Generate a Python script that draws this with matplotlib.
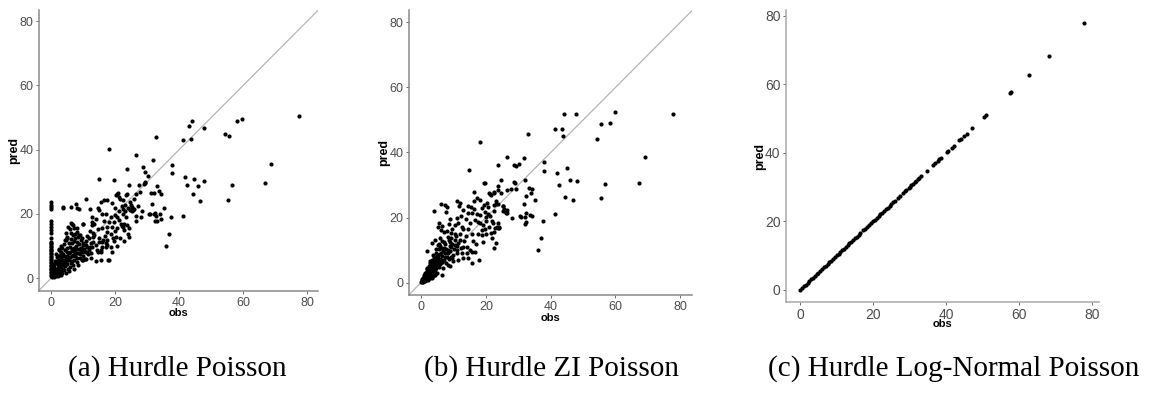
import matplotlib
matplotlib.use("Agg")
import matplotlib.pyplot as plt

# ---------------- data: (obs, pred) pairs ----------------
points_a = [
    # obs = 0 column
    (0, 23.8), (0, 22.9), (0, 22.2), (0, 21.6), (0, 17.9), (0, 16.9), (0, 15.9), (0, 15.0), (0, 14.0),
    (0, 12.4), (0, 11.3), (0, 10.9), (0, 10.5), (0, 10.1), (0, 9.6), (0, 9.2), (0, 8.7), (0, 8.3),
    (0, 7.8), (0, 7.4), (0, 6.9), (0, 6.5), (0, 6.0), (0, 5.6), (0, 5.1), (0, 4.7), (0, 4.2), (0, 3.8),
    (0, 3.3), (0, 2.9), (0, 2.4), (0, 2.0), (0, 1.5), (0, 1.1), (0, 0.6),
    # dense low cluster
    (0.5, 1.0), (0.8, 0.6), (1.0, 1.8), (1.2, 0.9), (1.5, 2.5), (1.7, 1.4), (2.0, 0.8), (2.0, 3.2),
    (2.3, 1.9), (2.5, 2.8), (2.8, 1.2), (3.0, 3.8), (3.0, 2.2), (3.3, 4.5), (3.5, 1.6), (3.6, 3.0),
    (4.0, 5.2), (4.0, 2.5), (4.2, 3.8), (4.5, 6.0), (4.6, 1.5), (5.0, 4.4), (5.0, 7.0), (5.2, 2.8),
    (5.5, 5.8), (5.8, 3.5), (6.0, 8.0), (6.0, 6.5), (6.2, 4.6), (6.5, 9.2), (6.8, 7.3), (7.0, 5.5),
    (7.2, 3.0), (7.5, 8.5), (7.8, 10.0), (8.0, 6.4), (8.2, 11.2), (8.5, 4.2), (8.8, 9.0), (9.0, 7.6),
    (9.3, 12.0), (9.5, 5.5), (10.0, 10.2), (10.0, 8.2), (1.0, 3.5), (1.5, 4.6), (2.0, 5.8), (2.5, 7.0),
    (3.0, 8.2), (3.5, 9.4), (4.0, 10.6), (4.5, 11.8), (5.0, 12.8), (1.8, 6.5), (2.6, 9.0), (3.4, 6.8),
    (4.8, 9.5), (5.5, 10.8), (6.3, 12.2), (0.7, 2.6), (1.3, 5.2), (2.2, 4.0), (3.8, 7.5), (4.3, 8.8),
    (5.3, 6.0), (6.5, 11.0), (7.3, 12.5), (7.0, 9.5), (8.5, 12.8), (9.0, 13.5), (1.0, 0.4), (1.5, 0.7),
    (2.5, 0.9), (3.2, 1.0), (0.3, 0.5), (0.4, 1.5), (0.6, 2.0), (1.1, 2.4), (1.9, 1.6), (2.7, 3.5),
    (3.9, 4.2), (4.7, 4.9), (5.6, 2.2), (6.7, 4.0), (7.6, 6.8), (8.3, 7.9), (9.7, 9.2), (10.5, 6.0),
    (11.0, 11.5), (11.5, 7.5),
    (1.2, 3.0), (1.6, 2.0), (2.1, 2.6), (2.4, 4.6), (2.9, 5.2), (3.1, 6.0), (3.7, 5.5), (4.1, 6.8),
    (4.4, 4.8), (4.9, 8.0), (5.1, 5.6), (5.7, 7.8), (5.9, 9.6), (6.4, 5.2), (6.6, 7.0), (6.9, 8.6),
    (7.1, 11.5), (7.4, 7.5), (7.9, 9.2), (8.1, 5.0), (8.6, 10.5), (8.9, 6.2), (9.4, 8.4), (9.9, 7.0),
    (10.3, 9.0), (10.8, 10.4), (11.3, 9.6), (11.8, 12.6), (12.3, 11.0), (13.5, 13.5), (14.0, 10.2),
    (14.8, 12.6), (16.3, 12.0), (16.8, 13.2), (17.5, 12.0), (3.2, 10.0), (2.2, 6.8), (1.4, 7.5),
    (0.9, 4.4), (0.5, 3.2), (0.3, 2.2), (14.0, 5.2), (12.5, 6.2),
    # middle region
    (3.75, 22.2), (6.1, 22.2), (7.7, 23.1), (8.0, 22.0), (8.75, 21.4), (10.8, 24.6), (12.1, 21.4),
    (14.5, 22.0), (15.5, 23.6), (16.6, 24.3), (17.6, 24.3), (20.7, 26.2), (21.25, 25.3), (24.4, 29.0),
    (23.5, 25.9), (24.9, 22.7), (25.4, 22.2), (25.9, 21.4), (23.1, 21.0), (27.5, 29.0), (29.2, 30.0),
    (31.1, 26.4), (30.6, 20.1), (32.2, 20.1), (15.0, 21.2), (16.0, 20.1), (17.0, 20.1), (18.6, 19.1),
    (21.25, 18.1), (21.8, 17.0), (22.3, 16.0), (22.8, 15.0), (23.9, 13.9), (24.4, 12.9), (12.9, 19.1),
    (13.4, 17.0), (14.5, 15.2), (16.0, 15.5), (17.6, 14.4), (18.6, 13.9), (19.2, 12.4), (20.2, 12.9),
    (17.1, 10.8), (17.6, 10.3), (18.6, 9.8), (15.0, 11.3), (16.0, 9.8), (15.5, 8.2), (17.9, 5.6),
    (12.9, 9.8), (14.5, 8.2), (15.5, 8.7), (10.8, 8.2), (11.9, 8.7), (12.4, 7.7), (9.8, 5.6),
    (10.8, 6.1), (5.4, 16.0), (6.1, 17.2), (6.7, 16.5), (7.2, 15.5), (5.9, 15.2), (6.5, 16.9),
    (9.8, 17.0), (12.9, 16.5), (8.2, 14.4), (8.75, 13.4), (6.7, 13.4), (5.1, 12.4), (4.4, 12.0),
    (2.5, 8.7), (3.0, 7.7), (18.2, 40.2), (15.0, 31.0), (19.5, 30.7), (21.0, 26.6), (12.7, 17.5),
    (13.0, 12.9), (13.0, 11.3), (14.4, 8.9), (15.6, 5.6), (18.1, 5.8), (17.0, 9.6), (15.8, 11.3),
    (17.4, 16.0), (10.0, 16.8), (10.0, 11.0), (9.2, 9.5), (9.6, 12.4), (12.2, 14.7), (12.0, 9.8),
    (11.0, 8.1), (3.6, 22.0),
    (19.0, 15.8), (19.8, 14.6), (20.5, 15.5), (19.5, 17.6), (20.5, 19.0), (18.0, 17.5), (16.5, 17.8),
    (14.0, 18.5), (13.2, 14.0), (11.2, 13.2), (8.0, 15.5), (7.5, 13.8), (6.2, 14.2), (4.5, 14.0),
    (22.0, 22.5), (20.0, 21.8), (19.0, 23.5), (20.2, 25.8), (22.5, 24.2), (24.0, 22.0), (23.3, 19.0),
    (21.2, 21.0), (19.8, 19.8), (26.0, 24.8), (27.2, 22.5), (28.5, 21.0), (19.0, 8.0), (20.5, 10.0),
    (21.5, 12.5), (19.5, 11.5),
    # upper / right region
    (77.5, 50.6), (59.7, 49.7), (58.2, 48.8), (68.75, 35.6), (66.9, 29.5), (54.2, 44.8), (55.5, 44.3),
    (56.5, 28.9), (55.4, 24.2), (47.8, 46.9), (44.1, 48.9), (43.2, 47.4), (43.6, 43.3), (41.25, 42.9),
    (32.8, 43.8), (26.4, 38.5), (31.8, 36.9), (23.75, 34.0), (28.75, 34.7), (29.4, 33.1), (30.3, 31.8),
    (37.8, 35.2), (37.8, 32.8), (41.8, 31.6), (44.7, 30.8), (47.9, 30.4), (42.4, 28.9), (45.8, 28.7),
    (44.3, 26.1), (46.6, 24.0), (29.2, 29.7), (28.9, 29.3), (33.2, 28.7), (32.2, 26.6), (33.75, 27.1),
    (34.2, 26.3), (27.8, 26.8), (26.5, 26.3), (23.8, 26.1), (21.6, 24.8), (24.6, 23.6), (31.5, 23.0),
    (35.2, 21.9), (25.3, 22.0), (25.7, 21.2), (25.2, 20.8), (24.7, 21.3), (23.0, 22.7), (22.4, 21.6),
    (22.6, 19.9), (26.5, 19.5), (28.1, 19.1), (30.9, 20.0), (32.5, 20.3), (32.7, 19.5), (34.1, 19.9),
    (34.3, 18.4), (32.4, 17.8), (33.0, 17.8), (26.4, 17.8), (37.6, 18.9), (41.3, 19.5), (36.9, 13.8),
    (36.0, 10.0), (22.9, 16.9), (23.8, 16.7), (22.1, 16.1), (24.4, 15.5), (22.8, 11.5),
]

points_b = [
    # upper / right region
    (77.8, 51.7), (59.9, 52.5), (58.4, 49.2), (55.5, 48.8), (54.2, 44.1), (69.0, 38.7), (67.1, 30.5),
    (56.7, 30.2), (55.5, 25.9), (47.9, 51.7), (44.0, 51.7), (41.4, 47.3), (43.4, 47.1), (43.8, 45.2),
    (32.9, 45.7), (37.8, 37.1), (37.8, 34.3), (44.9, 35.3), (42.0, 33.7), (46.0, 31.6), (48.0, 31.1),
    (42.5, 29.9), (44.4, 26.4), (46.8, 25.5), (41.4, 21.1), (37.7, 18.9), (36.9, 13.6), (36.2, 10.0),
    (35.3, 25.5), (31.7, 38.4), (26.4, 38.5), (28.8, 36.1), (29.4, 35.8), (30.3, 36.4), (23.9, 36.1),
    (24.7, 31.6), (28.8, 30.8), (32.2, 31.4), (27.8, 28.7), (26.5, 28.5), (29.4, 28.8), (23.9, 28.5),
    (22.6, 27.9), (24.6, 27.5), (21.4, 27.2), (33.3, 29.2), (34.1, 28.7), (33.9, 27.7), (32.4, 26.6),
    (31.7, 24.2), (23.1, 24.3), (22.5, 23.8), (25.4, 23.5), (25.7, 22.7), (25.2, 21.9), (26.2, 21.3),
    (26.4, 22.3), (22.4, 22.0), (28.1, 20.0), (30.6, 20.6), (30.9, 20.1), (32.3, 21.5), (32.0, 20.2),
    (33.7, 20.9), (34.1, 20.5), (32.5, 18.6), (32.1, 18.0), (22.7, 16.9), (23.7, 16.7), (24.2, 16.8),
    (21.9, 18.9), (21.4, 20.4), (21.8, 13.7), (22.6, 10.6), (18.3, 43.3), (14.9, 34.6), (19.5, 30.6),
    # middle region
    (19.8, 30.7), (23.9, 29.7), (29.0, 30.5), (21.1, 27.6), (21.6, 26.9), (22.6, 27.4), (16.5, 27.9),
    (18.2, 25.4), (20.3, 24.6), (19.5, 23.8), (20.6, 23.3), (23.0, 25.2), (23.9, 24.2), (25.2, 23.5),
    (26.1, 21.8), (26.5, 21.3), (6.1, 24.2), (7.4, 23.8), (7.9, 23.1), (7.6, 21.6), (3.9, 22.1),
    (11.0, 25.2), (12.0, 24.6), (11.7, 23.5), (14.6, 23.5), (16.2, 25.2), (17.2, 25.9), (14.4, 21.3),
    (15.6, 21.5), (16.5, 22.5), (18.7, 22.8), (19.8, 21.8), (18.2, 20.8), (20.0, 20.3), (20.8, 21.1),
    (17.7, 18.7), (18.2, 18.2), (19.2, 17.7), (22.3, 18.2), (23.4, 17.2), (23.9, 18.2), (24.1, 17.2),
    (21.6, 15.4), (22.6, 15.7), (23.0, 12.1), (18.7, 16.2), (17.7, 15.1), (18.9, 14.6), (14.6, 16.4),
    (15.6, 15.1), (12.6, 17.2), (13.1, 16.4), (11.5, 18.2), (10.5, 17.7), (5.7, 18.2), (6.4, 17.4),
    (5.2, 17.0), (6.2, 16.2), (7.0, 15.5), (7.9, 16.0), (9.5, 16.4), (9.3, 15.4), (10.5, 15.0),
    (8.2, 14.1), (9.3, 13.6), (9.0, 12.6), (10.5, 11.6), (11.5, 12.1), (3.3, 12.3), (4.3, 13.1),
    (5.1, 11.6), (5.9, 13.6), (1.7, 9.8), (13.1, 11.1), (14.1, 11.1), (15.1, 10.0), (15.6, 9.5),
    (14.1, 9.0), (13.1, 7.5), (14.6, 7.5), (16.7, 9.5), (18.0, 7.0), (15.6, 5.9), (11.0, 9.0),
    (11.5, 7.0), (9.5, 7.5), (8.4, 5.4), (6.4, 2.4),
    (16.0, 12.8), (17.0, 11.8), (19.0, 12.5), (20.0, 14.8), (19.8, 16.4), (21.0, 17.0), (16.8, 19.2),
    (15.2, 18.2), (13.8, 19.5), (12.2, 20.5), (20.2, 19.0), (17.2, 21.2), (15.4, 23.2), (13.0, 22.2),
    (9.0, 19.5), (8.5, 18.0), (11.0, 20.0),
    # dense wedge near the origin
    (0.2, 0.3), (0.4, 0.8), (0.5, 0.2), (0.7, 1.2), (0.9, 0.6), (1.0, 1.8), (1.1, 2.5), (1.2, 1.0),
    (1.4, 3.0), (1.5, 1.5), (1.6, 0.7), (1.8, 2.2), (1.9, 3.6), (2.0, 4.2), (2.1, 1.2), (2.3, 2.8),
    (2.4, 5.0), (2.5, 3.4), (2.6, 1.8), (2.8, 4.4), (2.9, 6.0), (3.0, 2.5), (3.1, 3.8), (3.2, 5.4),
    (3.4, 7.0), (3.5, 4.6), (3.6, 2.0), (3.8, 6.2), (3.9, 3.2), (4.0, 8.0), (4.1, 5.0), (4.3, 6.8),
    (4.4, 4.0), (4.6, 9.0), (4.7, 5.8), (4.9, 7.6), (5.0, 3.0), (5.2, 6.6), (5.3, 8.6), (5.5, 4.8),
    (5.7, 10.2), (5.8, 7.2), (6.0, 5.8), (6.2, 9.2), (6.4, 6.4), (6.6, 8.2), (6.8, 4.5), (7.0, 10.6),
    (7.2, 7.0), (7.5, 9.0), (7.8, 6.0), (8.0, 8.0), (8.3, 10.0), (8.6, 7.2), (9.0, 9.6), (9.4, 11.0),
    (9.8, 8.6), (10.2, 10.4), (1.3, 0.4), (2.2, 0.9), (2.8, 1.5), (3.3, 1.3), (4.2, 2.5), (0.8, 1.8),
    (1.7, 4.6), (2.7, 6.6), (3.6, 8.6), (4.5, 10.4), (5.5, 12.0), (6.5, 12.8), (7.5, 11.8), (12.0, 13.0),
    (11.0, 10.0), (12.5, 9.0), (10.0, 6.5), (9.0, 5.0), (0.3, 1.2), (0.6, 1.5), (1.0, 0.9), (2.0, 1.8),
    (0.1, 0.1), (0.3, 0.6), (0.5, 1.0), (0.6, 0.4), (0.8, 1.4), (1.0, 2.2), (1.2, 1.6), (1.3, 2.9),
    (1.5, 2.1), (1.7, 3.2), (1.9, 1.4), (2.0, 2.6), (2.2, 3.8), (2.4, 2.2), (2.5, 4.4), (2.7, 3.0),
    (2.9, 2.0), (3.0, 4.8), (3.2, 3.4), (3.4, 5.8), (3.5, 2.8), (3.7, 4.2), (3.9, 5.4), (4.0, 3.6),
    (4.2, 7.2), (4.4, 6.0), (4.6, 4.6), (4.8, 6.6), (5.0, 8.4), (5.1, 5.4), (5.4, 7.6), (5.6, 6.0),
    (5.9, 8.8), (6.1, 7.0), (6.3, 10.8), (6.6, 6.2), (6.9, 9.6), (7.3, 8.0), (7.7, 10.2), (8.2, 9.2),
    (8.8, 11.2), (9.2, 8.0), (9.6, 12.0), (10.6, 13.2), (11.2, 11.4), (12.3, 10.6), (13.2, 12.8),
    (13.8, 14.4), (12.0, 15.0), (10.8, 14.2), (8.5, 13.0), (7.0, 12.4), (6.0, 11.4),
]

points_c = [
    (0.0, 0.0), (0.5, 0.5), (1.0, 1.0), (1.5, 1.5), (2.0, 2.0), (2.5, 2.5), (3.0, 3.0), (3.5, 3.5),
    (4.0, 4.0), (4.5, 4.5), (5.0, 5.0), (5.5, 5.5), (6.0, 6.0), (6.5, 6.5), (7.0, 7.0), (7.5, 7.5),
    (8.0, 8.0), (8.5, 8.5), (9.0, 9.0), (9.5, 9.5), (10.0, 10.0), (10.5, 10.5), (11.0, 11.0),
    (11.5, 11.5), (12.0, 12.0), (12.5, 12.5), (13.0, 13.0), (13.5, 13.5), (14.0, 14.0), (14.5, 14.5),
    (15.0, 15.0), (15.5, 15.5), (16.0, 16.0), (16.5, 16.5), (17.3, 17.3), (17.8, 17.8), (18.3, 18.3),
    (18.8, 18.8), (19.5, 19.5), (20.0, 20.0), (20.5, 20.5), (21.0, 21.0), (21.5, 21.5), (22.0, 22.0),
    (22.5, 22.5), (23.0, 23.0), (23.5, 23.5), (24.0, 24.0), (24.5, 24.5), (25.0, 25.0), (25.5, 25.5),
    (26.0, 26.0), (26.8, 26.8), (27.3, 27.3), (28.2, 28.2), (28.7, 28.7), (29.1, 29.1), (29.7, 29.7),
    (30.1, 30.1), (30.5, 30.5), (31.0, 31.0), (31.4, 31.4), (31.8, 31.8), (32.2, 32.2), (32.6, 32.6),
    (33.2, 33.2), (34.8, 34.8), (36.5, 36.5), (37.0, 37.0), (37.7, 37.7), (38.1, 38.1), (38.6, 38.6),
    (40.2, 40.2), (40.6, 40.6), (41.5, 41.5), (42.1, 42.1), (43.6, 43.6), (44.1, 44.1), (44.9, 44.9),
    (45.6, 45.6), (47.1, 47.1), (50.3, 50.3), (50.9, 50.9), (57.4, 57.4), (57.8, 57.8), (62.6, 62.6),
    (68.3, 68.3), (77.8, 77.8),
]

ticks = [0, 20, 40, 60, 80]
captions = ["(a) Hurdle Poisson", "(b) Hurdle ZI Poisson", "(c) Hurdle Log-Normal Poisson"]

# ---------------- figure ----------------
W, H = 1154, 399
fig = plt.figure(figsize=(W / 100, H / 100), dpi=100)


def box(l, r, t, b):
    return [l / W, 1 - b / H, (r - l) / W, (b - t) / H]


panels = [
    dict(rect=box(39, 318, 10, 291), pts=points_a, xlim=(-3.8, 83.4), ylim=(-4.0, 83.5), line=True,
         fs=9, cap_x=177, spine="#8a8a8a", ypad=-0.8, xpad=-0.5),
    dict(rect=box(409, 692, 10, 295), pts=points_b, xlim=(-3.7, 83.6), ylim=(-3.8, 83.8), line=True,
         fs=9, cap_x=551, spine="#8a8a8a", ypad=-0.8, xpad=0),
    dict(rect=box(786, 1099, 10, 302), pts=points_c, xlim=(-3.9, 81.9), ylim=(-3.6, 81.7), line=False,
         fs=10, cap_x=954, spine="#a8a8a8", ypad=-1.0, xpad=-1.5),
]

for i, p in enumerate(panels):
    ax = fig.add_axes(p["rect"])
    ax.set_xlim(p["xlim"])
    ax.set_ylim(p["ylim"])
    if p["line"]:
        ax.axline((0, 0), (1, 1), color="#b5b5b5", lw=0.9, zorder=1)
    xs = [q[0] for q in p["pts"]]
    ys = [q[1] for q in p["pts"]]
    ax.scatter(xs, ys, s=9, c="black", linewidths=0, zorder=2)
    for s in ("top", "right"):
        ax.spines[s].set_visible(False)
    for s in ("left", "bottom"):
        ax.spines[s].set_color(p["spine"])
        ax.spines[s].set_linewidth(1.1)
    ax.set_xticks(ticks)
    ax.set_yticks(ticks)
    ax.tick_params(length=2.5, width=0.6, color="#555555", pad=1.5,
                   labelsize=p["fs"], labelcolor="#4d4d4d")
    for lab in ax.get_xticklabels() + ax.get_yticklabels():
        lab.set_family("Liberation Sans")
    ax.set_xlabel("obs", fontsize=8, fontweight="bold", family="Liberation Sans", labelpad=p["xpad"])
    ax.set_ylabel("pred", fontsize=9, fontweight="bold", family="Liberation Sans", labelpad=p["ypad"])
    fig.text(p["cap_x"] / W, 1 - 369 / H, captions[i], ha="center", va="center",
             fontsize=21, family="Liberation Serif")

fig.savefig("out.png", dpi=100)
